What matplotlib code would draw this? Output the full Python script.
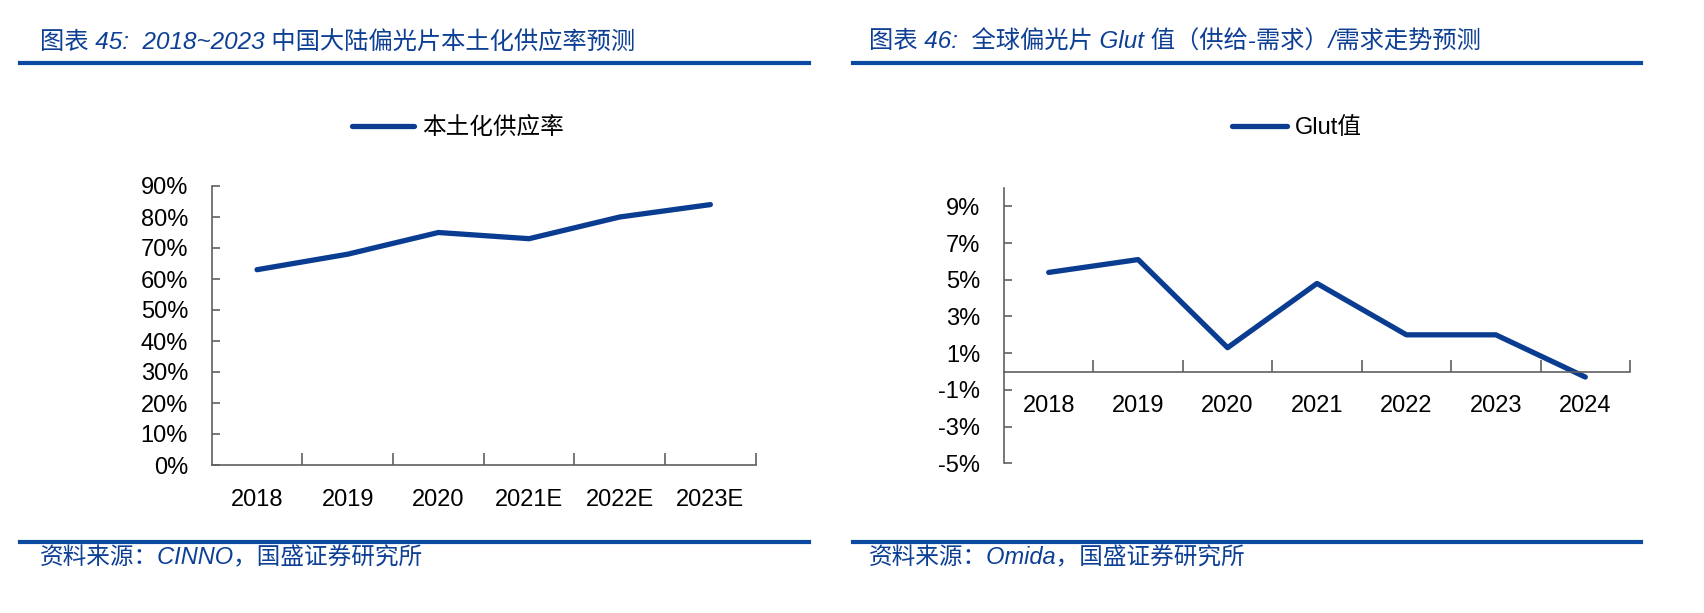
import matplotlib
matplotlib.use("Agg")
import matplotlib.pyplot as plt
from matplotlib.lines import Line2D
from matplotlib.ticker import FuncFormatter

plt.rcParams['font.family'] = ['Liberation Sans', 'Noto Sans CJK SC', 'DejaVu Sans']

# ---- data ----
left_categories = ["2018", "2019", "2020", "2021E", "2022E", "2023E"]
left_values = [0.63, 0.68, 0.75, 0.73, 0.80, 0.84]
left_series_name = "本土化供应率"
left_yticks = [0.0, 0.1, 0.2, 0.3, 0.4, 0.5, 0.6, 0.7, 0.8, 0.9]

right_categories = ["2018", "2019", "2020", "2021", "2022", "2023", "2024"]
right_values = [5.4, 6.1, 1.3, 4.8, 2.0, 2.0, -0.3]
right_series_name = "Glut值"
right_yticks = [-5, -3, -1, 1, 3, 5, 7, 9]

left_title = "图表 45:  2018~2023 中国大陆偏光片本土化供应率预测"
right_title = "图表 46:  全球偏光片 Glut 值（供给-需求）/需求走势预测"
left_source = "资料来源：CINNO，国盛证券研究所"
right_source = "资料来源：Omida，国盛证券研究所"

W, H = 1704, 613
fig = plt.figure(figsize=(W / 100, H / 100), dpi=100)

LINE_C = '#0a3d91'
TITLE_C = '#0d3f94'
AX_C = '#606060'
FS = 17

def fx(px):
    return px / W

def fy(py):
    return 1 - py / H

def style_axes(ax):
    for s in ['top', 'right']:
        ax.spines[s].set_visible(False)
    for s in ['left', 'bottom']:
        ax.spines[s].set_color(AX_C)
        ax.spines[s].set_linewidth(1.2)
    ax.tick_params(axis='both', direction='in', length=6, width=1.2, color=AX_C,
                   labelsize=FS, labelcolor='black')
    ax.tick_params(axis='y', pad=17)

# ---- left chart ----
axL = fig.add_axes([fx(211.7), fy(465), fx(755.7) - fx(211.7), fy(186) - fy(465)])
xl = list(range(len(left_categories)))
lnL, = axL.plot(xl, left_values, color=LINE_C, lw=3.8, solid_capstyle='round',
                solid_joinstyle='round', label=left_series_name)
axL.set_xlim(-0.5, len(left_categories) - 0.5)
axL.set_ylim(0, 0.9)
axL.set_yticks(left_yticks)
axL.yaxis.set_major_formatter(FuncFormatter(lambda v, p: f"{v*100:.0f}%"))
axL.set_xticks([i + 0.5 for i in xl])
axL.set_xticklabels([])
axL.set_xticks(xl, minor=True)
axL.set_xticklabels(left_categories, minor=True)
style_axes(axL)
axL.tick_params(axis='x', which='minor', length=0, labelsize=FS, pad=17)
axL.tick_params(axis='x', which='major', length=9)

fig.legend(handles=[lnL], loc='center', bbox_to_anchor=(fx(458), fy(128)),
           frameon=False, fontsize=FS, handlelength=2.6, handletextpad=0.35)

# ---- right chart ----
axR = fig.add_axes([fx(1004), fy(463.3), fx(1630) - fx(1004), fy(188) - fy(463.3)])
xr = list(range(len(right_categories)))
lnR, = axR.plot(xr, right_values, color=LINE_C, lw=3.8, solid_capstyle='round',
                solid_joinstyle='round', label=right_series_name)
axR.set_xlim(-0.5, len(right_categories) - 0.5)
axR.set_ylim(-5, 10)
axR.set_yticks(right_yticks)
axR.yaxis.set_major_formatter(FuncFormatter(lambda v, p: f"{v:.0f}%"))
style_axes(axR)
axR.spines['bottom'].set_position(('data', 0))
axR.set_xticks([i + 0.5 for i in xr])
axR.set_xticklabels([])
axR.set_xticks(xr, minor=True)
axR.set_xticklabels(right_categories, minor=True)
axR.tick_params(axis='x', which='minor', length=0, labelsize=FS, pad=17)
axR.tick_params(axis='x', which='major', length=9)

fig.legend(handles=[lnR], loc='center', bbox_to_anchor=(fx(1297), fy(128)),
           frameon=False, fontsize=FS, handlelength=2.3, handletextpad=0.35)

# ---- titles, rules, sources ----
fig.text(fx(40), fy(42), left_title, fontsize=17.5, color=TITLE_C, style='italic',
         va='center', ha='left')
fig.text(fx(869), fy(42), right_title, fontsize=17.5, color=TITLE_C, style='italic',
         va='center', ha='left')
fig.text(fx(40), fy(558), left_source, fontsize=17, color=TITLE_C, style='italic',
         va='center', ha='left')
fig.text(fx(869), fy(558), right_source, fontsize=17, color=TITLE_C, style='italic',
         va='center', ha='left')

for (x0, x1) in [(20, 809), (853, 1641)]:
    for yy in (63, 542):
        fig.add_artist(Line2D([fx(x0), fx(x1)], [fy(yy), fy(yy)], color='#0b4aa0',
                              lw=3, transform=fig.transFigure))

fig.savefig("out.png", dpi=100)
